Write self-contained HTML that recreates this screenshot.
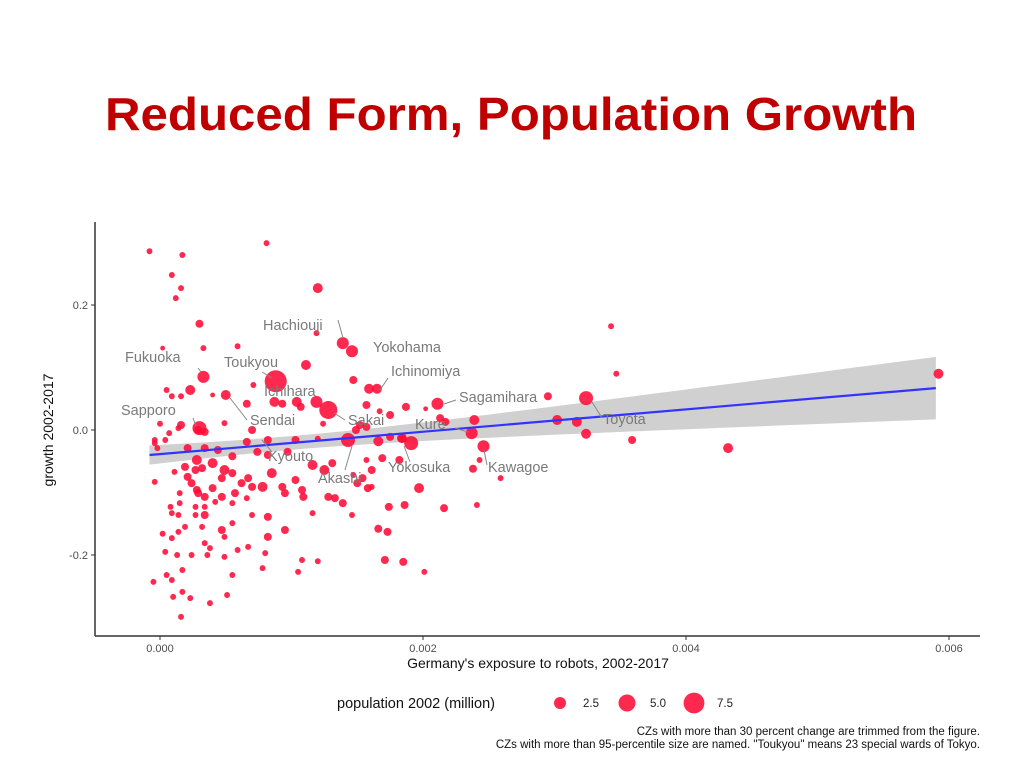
<!DOCTYPE html>
<html><head><meta charset="utf-8"><style>
body{margin:0;background:#fff;}
svg{display:block;font-family:"Liberation Sans",sans-serif;}
</style></head><body>
<svg id="chart" width="1024" height="768" viewBox="0 0 1024 768">
<text x="105" y="130" font-size="46" font-weight="bold" fill="#c00000" textLength="812" lengthAdjust="spacingAndGlyphs">Reduced Form, Population Growth</text>
<g id="plot"></g>
</svg>
<script>
const exposure=[-0.00008,0.00017,0.00009,0.00016,0.00012,0.00081,0.00120,0.00030,0.00119,0.00033,0.00059,0.00002,0.00139,0.00146,0.00033,0.00088,0.00111,0.00147,0.00159,0.00165,0.00023,0.00005,0.00009,0.00016,0.00050,0.00040,0.00071,0.00087,0.00093,0.00104,0.00107,0.00119,0.00128,0.00066,0.00016,0.00030,0.00034,0.00000,0.00007,-0.00004,-0.00002,0.00211,0.00202,0.00175,0.00187,0.00157,0.00167,0.00295,0.00324,0.00343,0.00347,0.00592,0.00302,0.00317,0.00324,0.00359,0.00432,0.00237,0.00239,0.00213,0.00217,0.00246,0.00191,0.00184,0.00182,0.00243,0.00238,0.00259,0.00143,0.00166,0.00149,0.00152,0.00157,0.00161,0.00150,0.00154,0.00147,0.00197,0.00174,0.00186,0.00166,0.00173,0.00171,0.00185,0.00216,0.00241,0.00201,0.00158,0.00161,0.00169,
0.00028,0.00027,0.00019,0.00032,0.00040,0.00049,0.00055,0.00047,0.00062,0.00067,0.00070,0.00057,0.00078,0.00085,0.00093,0.00108,0.00103,0.00116,0.00125,0.00131,0.00095,0.00109,0.00128,0.00133,0.00139,0.00146,0.00116,0.00095,0.00082,0.00082,0.00070,0.00055,0.00047,0.00049,0.00032,0.00019,0.00014,0.00002,0.00009,0.00009,0.00014,0.00027,0.00034,0.00027,0.00034,0.00015,0.00008,0.00015,0.00028,0.00034,0.00047,0.00055,0.00066,0.00011,-0.00004,0.00021,0.00024,0.00029,0.00040,0.00042,0.00004,0.00013,0.00024,0.00036,0.00038,0.00034,0.00049,0.00059,0.00067,0.00080,0.00108,0.00120,0.00105,0.00078,0.00055,0.00017,0.00005,0.00009,-0.00005,0.00017,0.00010,0.00023,0.00038,0.00051,0.00016,
-0.00004,0.00004,0.00021,0.00034,0.00044,0.00055,0.00066,0.00074,0.00082,0.00097,0.00103,0.00120,0.00082,0.00070,0.00029,0.00049,0.00014,0.00175,0.00184,0.00124,0.00157];
const growth=[0.286,0.280,0.248,0.227,0.211,0.299,0.227,0.170,0.155,0.131,0.134,0.131,0.139,0.126,0.085,0.078,0.104,0.080,0.066,0.066,0.064,0.064,0.054,0.054,0.056,0.056,0.072,0.045,0.042,0.045,0.037,0.045,0.032,0.042,0.008,0.003,-0.003,0.010,-0.005,-0.016,-0.029,0.042,0.034,0.024,0.037,0.040,0.030,0.054,0.051,0.166,0.090,0.090,0.016,0.013,-0.006,-0.016,-0.029,-0.005,0.016,0.019,0.013,-0.026,-0.021,-0.013,-0.048,-0.048,-0.062,-0.077,-0.016,-0.018,0.000,0.008,-0.048,-0.091,-0.085,-0.077,-0.072,-0.093,-0.123,-0.120,-0.158,-0.163,-0.208,-0.211,-0.125,-0.120,-0.227,-0.093,-0.064,-0.045,
-0.048,-0.064,-0.059,-0.061,-0.053,-0.064,-0.069,-0.077,-0.085,-0.077,-0.091,-0.101,-0.091,-0.069,-0.091,-0.096,-0.080,-0.056,-0.064,-0.053,-0.101,-0.107,-0.107,-0.109,-0.117,-0.136,-0.133,-0.160,-0.171,-0.139,-0.136,-0.149,-0.160,-0.171,-0.155,-0.155,-0.163,-0.166,-0.173,-0.133,-0.136,-0.136,-0.136,-0.123,-0.123,-0.117,-0.123,-0.101,-0.096,-0.107,-0.107,-0.117,-0.109,-0.067,-0.083,-0.075,-0.085,-0.101,-0.093,-0.115,-0.195,-0.200,-0.200,-0.200,-0.189,-0.181,-0.203,-0.192,-0.187,-0.197,-0.208,-0.210,-0.227,-0.221,-0.232,-0.224,-0.232,-0.240,-0.243,-0.259,-0.267,-0.269,-0.277,-0.264,-0.299,
-0.021,-0.016,-0.029,-0.029,-0.032,-0.042,-0.019,-0.035,-0.040,-0.035,-0.016,-0.014,-0.016,0.000,0.000,0.011,0.003,-0.011,-0.014,0.010,0.005];
const population=[.6,.6,.6,.6,.6,.6,1.7,1.1,.6,.6,.6,.4,2.5,2.5,2.5,8.4,1.7,1.1,1.7,1.7,1.7,.6,.6,.6,1.7,.4,.6,1.7,1.1,1.7,1.1,2.5,5.6,1.1,1.1,3.4,1.1,.6,.6,.6,.6,2.5,.4,1.1,1.1,1.1,.6,1.1,3.4,.6,.6,1.7,1.7,1.7,1.7,1.1,1.7,2.5,1.7,1.1,1.1,2.5,3.4,1.7,1.1,.6,1.1,.6,3.4,1.7,1.1,1.1,.6,.6,1.1,1.1,.6,1.7,1.1,1.1,1.1,1.1,1.1,1.1,1.1,.6,.6,1.1,1.1,1.1,
1.7,1.1,1.1,1.1,1.7,1.7,1.1,1.1,1.1,1.1,1.1,1.1,1.7,1.7,1.1,1.1,1.1,1.7,1.7,1.1,1.1,1.1,1.1,1.1,1.1,.6,.6,1.1,1.1,1.1,.6,.6,1.1,.6,.6,.6,.6,.6,.6,.6,.6,.6,1.1,.6,.6,.6,.6,.6,1.1,1.1,1.1,.6,.6,.6,.6,1.1,1.1,1.1,1.1,.6,.6,.6,.6,.6,.6,.6,.6,.6,.6,.6,.6,.6,.6,.6,.6,.6,.6,.6,.6,.6,.6,.6,.6,.6,.6,
.6,.6,1.1,1.1,1.1,1.1,1.1,1.1,1.1,1.1,1.1,.6,1.1,1.1,1.1,.6,.6,1.1,1.1,.6,1.1];
const xTicks=[0,0.002,0.004,0.006];
const xTickLabels=["0.000","0.002","0.004","0.006"];
const yTicks=[0.2,0,-0.2];
const yTickLabels=["0.2","0.0","-0.2"];
const fitCoef=[-0.0386,17.9];
const bandParams=[0.011,0.001,99];
const legendValues=[2.5,5.0,7.5];
const legendLabels=["2.5","5.0","7.5"];

const NS="http://www.w3.org/2000/svg";
const plot=document.getElementById('plot');
const xS=v=>160+v*131500;
const yS=v=>430-v*625;
const rS=p=>3.8*Math.sqrt(p);
function mk(tag,attrs,parent,txt){const e=document.createElementNS(NS,tag);for(const k in attrs)e.setAttribute(k,attrs[k]);if(txt!==undefined)e.textContent=txt;(parent||plot).appendChild(e);return e;}

// band
const xs0=-0.00008,xs1=0.0059;let up=[],lo=[];
for(let i=0;i<=40;i++){const x=xs0+(xs1-xs0)*i/40;const f=fitCoef[0]+fitCoef[1]*x;const h=Math.sqrt(bandParams[0]**2+(x-bandParams[1])**2*bandParams[2]);up.push(xS(x)+','+yS(f+h));lo.unshift(xS(x)+','+yS(f-h));}
const band=mk('polygon',{points:up.concat(lo).join(' '),fill:'#c8c8c8','fill-opacity':'0.85'});



// points
const pts=mk('g',{});


for(let i=0;i<exposure.length;i++){
 const c=mk('circle',{cx:xS(exposure[i]),cy:yS(growth[i]),r:rS(population[i]),fill:'#ff0a35','fill-opacity':'0.88'},pts);
 
 
}
// fit line
const fl=mk('line',{x1:xS(xs0),y1:yS(fitCoef[0]+fitCoef[1]*xs0),x2:xS(xs1),y2:yS(fitCoef[0]+fitCoef[1]*xs1),stroke:'#3333ff','stroke-width':2.2});



// labels
const labels=[["Hachiouji",263,330,338,320,343,338],["Yokohama",373,352],["Fukuoka",125,362,198,368,201,372],["Toukyou",224,367,262,372,272,378],["Ichinomiya",391,376,388,378,380,390],["Ichihara",264,396],["Sagamihara",459,402,456,400,444,404],["Sapporo",121,415,193,418,196,426],["Sendai",250,425,247,420,230,398],["Sakai",348,425,345,420,334,413],["Kure",415,429,455,428,468,432],["Toyota",603,424,602,418,592,402],["Kyouto",268,461,272,452,262,440],["Yokosuka",388,472,410,462,404,446],["Kawagoe",488,472,487,465,484,450],["Akashi",318,483,345,470,352,446]];
const lg=mk('g',{});


labels.forEach(l=>{
 if(l.length>3){const s=mk('line',{x1:l[3],y1:l[4],x2:l[5],y2:l[6],stroke:'#888','stroke-width':1},lg);}
 const t=mk('text',{x:l[1],y:l[2],'font-size':14.5,fill:'#7a7a7a'},lg,l[0]);
 
 
});

// axes
const ax=mk('g',{});


mk('line',{x1:95,y1:222,x2:95,y2:636,stroke:'#333','stroke-width':1.5},ax);
mk('line',{x1:95,y1:636,x2:980,y2:636,stroke:'#333','stroke-width':1.5},ax);
xTicks.forEach((v,i)=>{mk('line',{x1:xS(v),y1:636,x2:xS(v),y2:640,stroke:'#333'},ax);
 const t=mk('text',{x:xS(v),y:652,'font-size':11,fill:'#4d4d4d','text-anchor':'middle'},ax,xTickLabels[i]);
 });
yTicks.forEach((v,i)=>{mk('line',{x1:91,y1:yS(v),x2:95,y2:yS(v),stroke:'#333'},ax);
 const t=mk('text',{x:88,y:yS(v)+4,'font-size':11,fill:'#4d4d4d','text-anchor':'end'},ax,yTickLabels[i]);
 });
const xt=mk('text',{x:538,y:668,'font-size':14,fill:'#111','text-anchor':'middle'},ax,"Germany's exposure to robots, 2002-2017");

const yt=mk('text',{x:0,y:0,'font-size':14,fill:'#111','text-anchor':'middle',transform:'translate(53,430) rotate(-90)'},ax,"growth 2002-2017");


// legend
const leg=mk('g',{});


mk('text',{x:337,y:708,'font-size':14.5,fill:'#111'},leg,"population 2002 (million)");
legendValues.forEach((v,i)=>{const cx=560+i*67;
 const c=mk('circle',{cx:cx,cy:703,r:rS(v),fill:'#ff0a35','fill-opacity':'0.88'},leg);
 
 mk('text',{x:cx+23,y:707,'font-size':11.5,fill:'#222'},leg,legendLabels[i]);});
const n1=mk('text',{x:980,y:735,'font-size':11.5,fill:'#111','text-anchor':'end'},null,'CZs with more than 30 percent change are trimmed from the figure.');

const n2=mk('text',{x:980,y:748,'font-size':11.5,fill:'#111','text-anchor':'end'},null,'CZs with more than 95-percentile size are named. "Toukyou" means 23 special wards of Tokyo.');

</script>
</body></html>
